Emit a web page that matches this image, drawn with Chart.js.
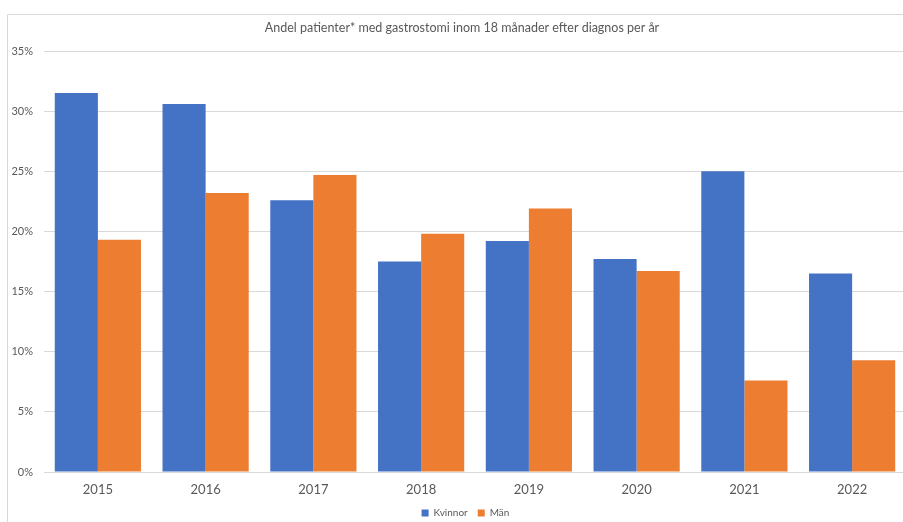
<!DOCTYPE html>
<html>
<head>
<meta charset="utf-8">
<script src="https://cdn.jsdelivr.net/npm/chart.js@4.4.1/dist/chart.umd.min.js"></script>
<style>
  html, body { margin: 0; padding: 0; background: #ffffff; overflow: hidden; }
  #wrap { position: relative; width: 903px; height: 522px; overflow: hidden; }
</style>
</head>
<body>
<div id="wrap"><canvas id="c" width="906" height="522"></canvas></div>
<script>
// Share of patients with gastrostomy within 18 months of diagnosis, by year and sex
const chartTitle = 'Andel patienter* med gastrostomi inom 18 månader efter diagnos per år';
const years = ['2015', '2016', '2017', '2018', '2019', '2020', '2021', '2022'];
const kvinnor = [31.5, 30.6, 22.6, 17.5, 19.2, 17.7, 25.0, 16.5];
const man = [19.3, 23.2, 24.7, 19.8, 21.9, 16.7, 7.6, 9.3];
const seriesNames = ['Kvinnor', 'Män'];

const FONT = 'Lato, "Open Sans", sans-serif';
const TEXT = '#595959';
const GRID = '#d9d9d9';

// Frame line and heading drawn on the canvas; legend nudged right under the plot
const frameAndTitle = {
  id: 'frameAndTitle',
  afterLayout(chart) {
    const lg = chart.legend;
    if (lg) { lg.left += 9; lg.right += 9; }
  },
  beforeDraw(chart) {
    const ctx = chart.ctx;
    ctx.save();
    ctx.strokeStyle = GRID;
    ctx.lineWidth = 1;
    ctx.beginPath();
    ctx.moveTo(7.5, chart.height);
    ctx.lineTo(7.5, 14.5);
    ctx.lineTo(chart.width, 14.5);
    ctx.stroke();
    ctx.restore();
  },
  afterDraw(chart) {
    const ctx = chart.ctx;
    ctx.save();
    ctx.fillStyle = TEXT;
    ctx.font = '12.5px ' + FONT;
    ctx.textAlign = 'center';
    ctx.textBaseline = 'middle';
    ctx.fillText(chartTitle, 462, 28);
    ctx.restore();
  }
};

new Chart(document.getElementById('c'), {
  type: 'bar',
  data: {
    labels: years,
    datasets: [
      { label: seriesNames[0], data: kvinnor, backgroundColor: '#4472C4' },
      { label: seriesNames[1], data: man, backgroundColor: '#ED7D31' }
    ]
  },
  options: {
    responsive: false,
    animation: false,
    devicePixelRatio: 1,
    layout: { padding: { left: 7, top: 51, right: 0, bottom: -6 } },
    datasets: { bar: { categoryPercentage: 0.8, barPercentage: 1.0 } },
    plugins: {
      title: { display: false },
      tooltip: { enabled: false },
      legend: {
        position: 'bottom',
        labels: {
          color: TEXT,
          font: { family: FONT, size: 10 },
          boxWidth: 7,
          boxHeight: 7,
          padding: 10
        }
      }
    },
    scales: {
      x: {
        grid: { display: false },
        border: { display: false },
        ticks: { color: TEXT, font: { family: FONT, size: 13 }, padding: 2 },
        afterFit(scale) { scale.height = 26; }
      },
      y: {
        min: 0,
        max: 35,
        grid: { color: GRID, drawTicks: false },
        border: { display: false },
        ticks: {
          stepSize: 5,
          color: TEXT,
          font: { family: FONT, size: 11 },
          padding: 11,
          callback: v => v + '%'
        },
        afterFit(scale) { scale.width = 37; }
      }
    }
  },
  plugins: [frameAndTitle]
});
</script>
</body>
</html>
